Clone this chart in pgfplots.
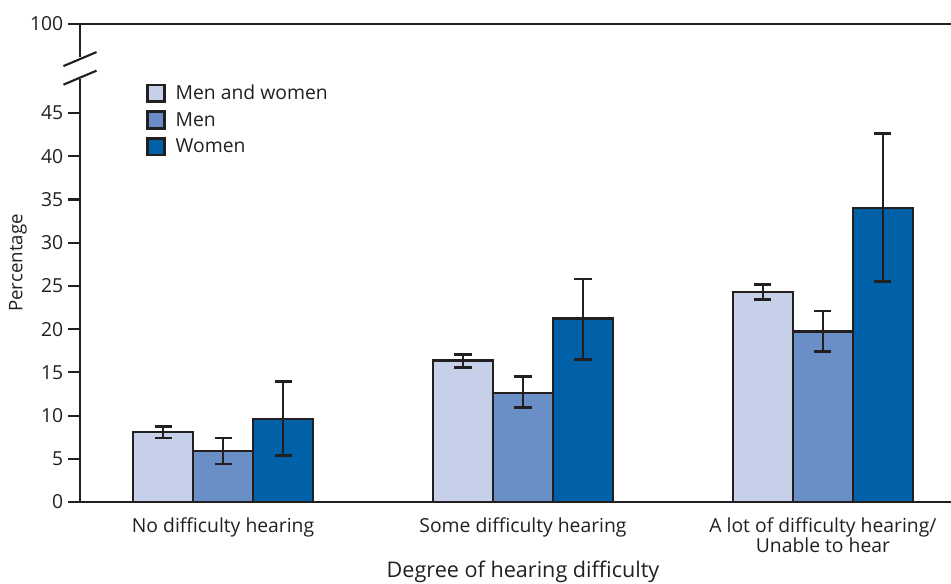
\documentclass[border=0pt]{standalone}
\usepackage{pgfplots}
\pgfplotsset{compat=1.18}
\usepackage{fontspec}
\setmainfont{Open Sans}
\definecolor{cA}{HTML}{C6D0E8}
\definecolor{cB}{HTML}{6A8FC6}
\definecolor{cC}{HTML}{0060A8}
\definecolor{edge}{HTML}{231F20}
\begin{document}
\begin{tikzpicture}
\begin{axis}[
  at={(0pt,0pt)}, anchor=south west,
  scale only axis, width=653.25pt, height=358.5pt,
  xmin=-0.477, xmax=2.427, ymin=0, ymax=55.31,
  clip=false,
  axis line style={draw=none},
  ybar=0pt, bar width=45pt,
  ytick={0,5,10,15,20,25,30,35,40,45,55.3},
  yticklabels={0,5,10,15,20,25,30,35,40,45,100},
  ytick pos=left, tick align=outside, major tick length=9pt,
  ytick style={line width=1.6pt, color=edge},
  xtick={0,1,2},
  xticklabels={No difficulty hearing, Some difficulty hearing, {A lot of difficulty hearing/\\Unable to hear}},
  xtick style={draw=none},
  xticklabel style={align=center, font=\fontsize{14.5}{15.5}\selectfont, text=edge, yshift=1pt},
  yticklabel style={font=\fontsize{14.5}{15}\selectfont, text=edge},
  /pgf/number format/assume math mode=true,
  ylabel={Percentage},
  ylabel style={at={(axis description cs:-0.0712,0.5)}, anchor=center, font=\fontsize{14}{15}\selectfont, text=edge},
  xlabel={Degree of hearing difficulty},
  xlabel style={at={(axis description cs:0.5086,-0.159)}, anchor=base, font=\fontsize{16.2}{17}\selectfont, text=edge},
  legend style={at={(axis description cs:0.0758,0.8787)}, anchor=north west, draw=none, fill=none, inner sep=0pt, row sep=4pt, font=\fontsize{14.5}{15}\selectfont, text=edge},
  legend cell align=left,
  legend image code/.code={\draw[#1, line width=2pt] (0pt,-6.3pt) rectangle (12.6pt,6.3pt); \path (18pt,0pt);},
  error bars/error bar style={line width=2.1pt, color=edge},
  error bars/error mark options={rotate=90, line width=2.1pt, color=edge, mark size=6.4pt},
]
\addplot[fill=cA, draw=edge, line width=2pt, error bars/.cd, y dir=both, y explicit]
  table[x=x, y=y, y error plus=ep, y error minus=em] {
x y ep em
0 8.1 0.6 0.7
1 16.4 0.7 0.8
2 24.3 0.9 0.9
};
\addplot[fill=cB, draw=edge, line width=2pt, error bars/.cd, y dir=both, y explicit]
  table[x=x, y=y, y error plus=ep, y error minus=em] {
x y ep em
0 5.9 1.5 1.5
1 12.6 1.9 1.7
2 19.7 2.4 2.3
};
\addplot[fill=cC, draw=edge, line width=2pt, error bars/.cd, y dir=both, y explicit]
  table[x=x, y=y, y error plus=ep, y error minus=em] {
x y ep em
0 9.6 4.3 4.2
1 21.2 4.6 4.7
2 34.0 8.6 8.5
};
\legend{Men and women, Men, Women}
\draw[edge, line width=1.7pt] (rel axis cs:0,1) -- (rel axis cs:1,1);
\draw[edge, line width=1.7pt] (rel axis cs:0,0) -- (rel axis cs:1,0);
\draw[edge, line width=1.7pt] (rel axis cs:0,0) -- (axis cs:-0.477,48.9);
\draw[edge, line width=1.7pt] (axis cs:-0.477,51.5) -- (rel axis cs:0,1);
\draw[edge, line width=1.6pt] ([xshift=-12.4pt, yshift=-5.25pt]axis cs:-0.477,51.25) -- ([xshift=12.4pt, yshift=5.25pt]axis cs:-0.477,51.25);
\draw[edge, line width=1.6pt] ([xshift=-12.4pt, yshift=-5.25pt]axis cs:-0.477,49.1) -- ([xshift=12.4pt, yshift=5.25pt]axis cs:-0.477,49.1);
\end{axis}
\pgfresetboundingbox
\path[use as bounding box] (-60pt,-61.5pt) rectangle (653.25pt,376.5pt);
\end{tikzpicture}
\end{document}
